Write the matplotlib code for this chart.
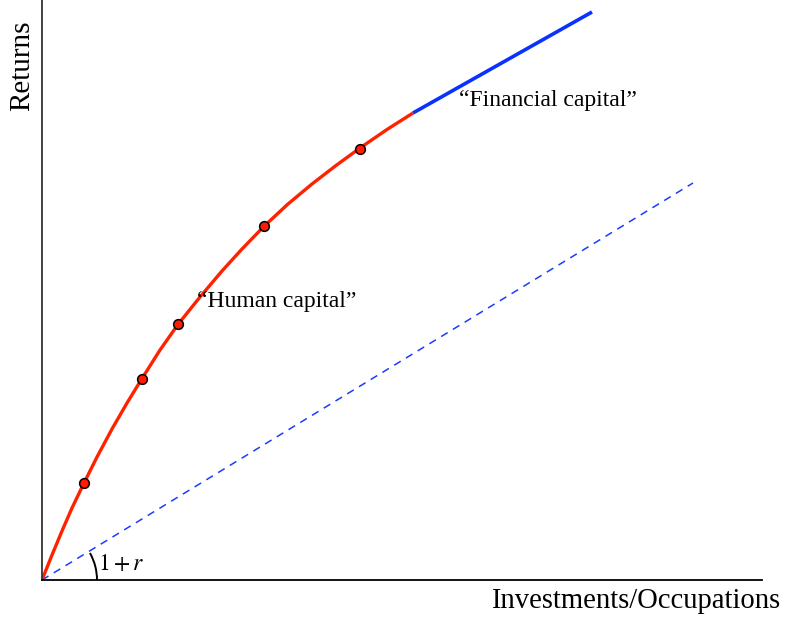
import matplotlib.pyplot as plt
from matplotlib.patches import Arc
import numpy as np

plt.rcParams['font.family'] = ['Liberation Serif', 'DejaVu Serif']
plt.rcParams['mathtext.fontset'] = 'stix'

# human capital curve
hc_x = [0, 10, 20, 30, 42, 55, 70, 85, 99.7, 118, 136.3, 158, 180, 200, 222.3, 246, 270, 294, 318, 345, 371]
hc_y = [0, 25, 49, 72, 97, 123, 151, 177, 201, 230, 256, 283, 309, 331, 354, 376, 396, 414.5, 432, 450.5, 467]
# observed occupations
pt_x = [42.3, 99.7, 136.3, 222.3, 318]
pt_y = [97, 201, 256, 354, 431]
# financial capital line
fc_x = [371, 550]
fc_y = [467, 568]
# 1 + r reference line
rr_x = [0, 651]
rr_y = [0, 397]

fig = plt.figure(figsize=(7.85, 6.24), dpi=100)
ax = fig.add_axes([42/785, 44/624, 720/785, 580/624])
ax.set_xlim(0, 720)
ax.set_ylim(0, 580)

ax.plot(rr_x, rr_y, color='#1a3cff', lw=1.1, ls=(0, (5, 4)))
ax.plot(hc_x, hc_y, color='#ff2200', lw=2.4, solid_capstyle='butt', solid_joinstyle='round')
ax.plot(fc_x, fc_y, color='#0a32ff', lw=2.6, solid_capstyle='butt')
ax.plot(pt_x, pt_y, 'o', color='#ff1a00', mec='black', mew=1.1, ms=7)

ang = np.degrees(np.arctan2(rr_y[1], rr_x[1]))
ax.add_patch(Arc((0, 0), 110, 110, theta1=0, theta2=ang - 2, color='black', lw=1.4))
ax.text(56, 10, '$1 + r$', fontsize=17, ha='left', va='baseline')

ax.text(417, 474, '\u201cFinancial capital\u201d', fontsize=17, ha='left', va='baseline')
ax.text(155, 273, '\u201cHuman capital\u201d', fontsize=17, ha='left', va='baseline')

for s in ['top', 'right']:
    ax.spines[s].set_visible(False)
ax.spines['left'].set_color('#333333')
ax.spines['left'].set_linewidth(1.3)
ax.spines['bottom'].set_linewidth(1.3)
ax.set_xticks([])
ax.set_yticks([])

fig.text(780/785, 1 - 608/624, 'Investments/Occupations', fontsize=20.6, ha='right', va='baseline')
fig.text(35/785, 1 - 66/624, 'Returns', fontsize=21, rotation=90, ha='right', va='center')

fig.savefig('out.png', dpi=100)
